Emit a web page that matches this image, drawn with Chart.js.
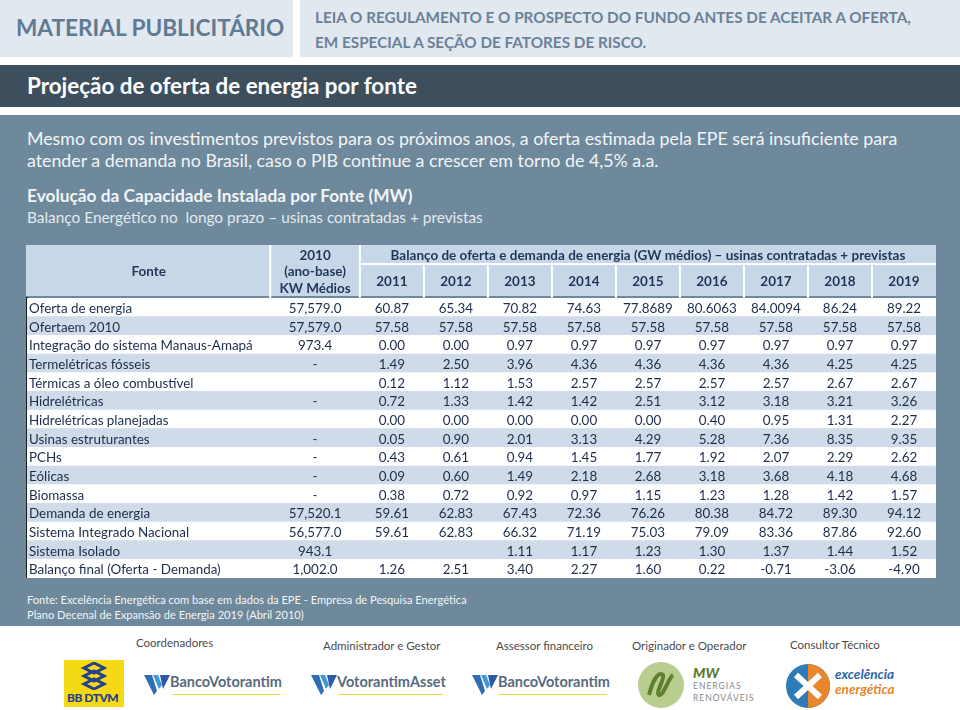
<!DOCTYPE html>
<html>
<head>
<meta charset="utf-8">
<script src="https://cdn.jsdelivr.net/npm/chart.js@4/dist/chart.umd.min.js"></script>
<style>
  html, body { margin: 0; padding: 0; }
  body { width: 960px; height: 710px; position: relative; background: #fff; font-family: Lato, "Open Sans", sans-serif; overflow: hidden; }
  .abs { position: absolute; }
  .topbox { background: #e2e8ef; top: 0; height: 57px; }
  .slate { background: #6e899c; left: 0; width: 960px; top: 115px; height: 511px; }
  .bar { background: #3d4f5d; left: 0; width: 960px; top: 65px; height: 42px; }
  .lbl { font-size: 11.5px; color: #4a4a4a; white-space: nowrap; }
  .bv { font-weight: 700; color: #586b80; white-space: nowrap; }
</style>
</head>
<body>

<!-- header boxes -->
<div class="abs topbox" style="left:0;width:293px"></div>
<div class="abs topbox" style="left:300px;width:660px"></div>
<div class="abs" style="left:16px;top:14px;font-size:22.6px;font-weight:700;color:#5f7a93;white-space:nowrap">MATERIAL PUBLICITÁRIO</div>
<div class="abs" style="left:315px;top:5px;font-size:15.3px;font-weight:700;color:#6b8198;line-height:25px;white-space:nowrap">LEIA O REGULAMENTO E O PROSPECTO DO FUNDO ANTES DE ACEITAR A OFERTA,<br>EM ESPECIAL A SEÇÃO DE FATORES DE RISCO.</div>

<div class="abs bar"></div>
<div class="abs" style="left:27px;top:72px;font-size:22.4px;font-weight:700;color:#fff;white-space:nowrap">Projeção de oferta de energia por fonte</div>

<div class="abs slate"></div>
<div class="abs" style="left:27px;top:127px;font-size:17.8px;color:#f2f5f7;line-height:22px;white-space:nowrap">Mesmo com os investimentos previstos para os próximos anos, a oferta estimada pela EPE será insuficiente para<br>atender a demanda no Brasil, caso o PIB continue a crescer em torno de 4,5% a.a.</div>
<div class="abs" style="left:27px;top:185px;font-size:17.3px;font-weight:700;color:#f2f5f7;white-space:nowrap">Evolução da Capacidade Instalada por Fonte (MW)</div>
<div class="abs" style="left:27px;top:208px;font-size:15.4px;color:#e3e9ee;white-space:nowrap">Balanço Energético no &nbsp;longo prazo – usinas contratadas + previstas</div>

<div class="abs" style="left:25px;top:245px;width:911px;height:333px">
  <canvas id="chart" width="911" height="333"></canvas>
</div>

<div class="abs" style="left:27px;top:592px;font-size:11.1px;color:#f2f5f7;line-height:15px;white-space:nowrap">Fonte: Excelência Energética com base em dados da EPE - Empresa de Pesquisa Energética<br>Plano Decenal de Expansão de Energia 2019 (Abril 2010)</div>

<!-- footer -->
<div class="abs lbl" style="left:136px;top:636px">Coordenadores</div>
<div class="abs lbl" style="left:323px;top:639px">Administrador e Gestor</div>
<div class="abs lbl" style="left:496px;top:639px">Assessor financeiro</div>
<div class="abs lbl" style="left:632px;top:639px">Originador e Operador</div>
<div class="abs lbl" style="left:790px;top:638px">Consultor Técnico</div>

<div class="abs" style="left:64px;top:660px;width:60px;height:47px;background:#f6d915"></div>
<svg class="abs" style="left:78px;top:662px" width="32" height="28" viewBox="0 0 32 28">
  <path d="M6 6 L16 1 L26 6 L16 11 Z M6 14 L16 9 L26 14 L16 19 Z M6 22 L16 17 L26 22 L16 27 Z" fill="none" stroke="#23408f" stroke-width="3"/>
</svg>
<div class="abs" style="left:67px;top:690px;font-size:12px;font-weight:900;color:#23408f;letter-spacing:-0.5px">BB DTVM</div>

<svg class="abs" style="left:144px;top:673px" width="26" height="22" viewBox="0 0 26 22"><path d="M0 2 L8 2 L13 18 L10 22 Z" fill="#2f6db5"/><path d="M9 2 L14 2 L18 12 L15 16 Z" fill="#3d9ad6"/><path d="M16 2 L26 2 L19 16 Z" fill="#2d5aa8"/></svg>
<div class="abs bv" style="left:170px;top:673px;font-size:14.5px">BancoVotorantim</div>
<div class="abs" style="left:172px;top:694px;width:108px;height:1px;background:#e8d83a"></div>

<svg class="abs" style="left:311px;top:673px" width="26" height="22" viewBox="0 0 26 22"><path d="M0 2 L8 2 L13 18 L10 22 Z" fill="#2f6db5"/><path d="M9 2 L14 2 L18 12 L15 16 Z" fill="#3d9ad6"/><path d="M16 2 L26 2 L19 16 Z" fill="#2d5aa8"/></svg>
<div class="abs bv" style="left:337px;top:673px;font-size:14.5px">VotorantimAsset</div>
<div class="abs" style="left:339px;top:694px;width:104px;height:1px;background:#e8d83a"></div>

<svg class="abs" style="left:472px;top:673px" width="26" height="22" viewBox="0 0 26 22"><path d="M0 2 L8 2 L13 18 L10 22 Z" fill="#2f6db5"/><path d="M9 2 L14 2 L18 12 L15 16 Z" fill="#3d9ad6"/><path d="M16 2 L26 2 L19 16 Z" fill="#2d5aa8"/></svg>
<div class="abs bv" style="left:498px;top:673px;font-size:14.5px">BancoVotorantim</div>
<div class="abs" style="left:499px;top:694px;width:108px;height:1px;background:#e8d83a"></div>

<svg class="abs" style="left:637px;top:661px" width="48" height="48" viewBox="0 0 48 48">
  <circle cx="24" cy="24" r="23" fill="#b9cd8f"/>
  <path d="M12 34 C16 18 22 10 26 14 C28 18 18 32 22 34 C26 36 32 16 36 14" fill="none" stroke="#5f7f2f" stroke-width="4"/>
</svg>
<div class="abs" style="left:693px;top:664px;font-size:14px;font-weight:900;font-style:italic;color:#5c7a2e">MW</div>
<div class="abs" style="left:693px;top:680px;font-size:8.5px;color:#8a8a8a;letter-spacing:1px;line-height:12px">ENERGIAS<br>RENOVÁVEIS</div>

<svg class="abs" style="left:785px;top:663px" width="46" height="46" viewBox="0 0 46 46">
  <circle cx="23" cy="23" r="22" fill="#2f7bb8"/>
  <path d="M23 1 A22 22 0 0 1 23 45 Z" fill="#e8862e"/>
  <path d="M11 12 L23 23 L11 34 M35 12 L23 23 L35 34" fill="none" stroke="#fff" stroke-width="6"/>
</svg>
<div class="abs" style="left:835px;top:667px;font-size:13.5px;font-weight:700;font-style:italic;color:#2f63a8;line-height:15px">excelência<br><span style="color:#e8862e">energética</span></div>

<script>
// linhas da tabela
const rowLabels = [
  "Oferta de energia",
  "Ofertaem 2010",
  "Integração do sistema Manaus-Amapá",
  "Termelétricas fósseis",
  "Térmicas a óleo combustível",
  "Hidrelétricas",
  "Hidrelétricas planejadas",
  "Usinas estruturantes",
  "PCHs",
  "Eólicas",
  "Biomassa",
  "Demanda de energia",
  "Sistema Integrado Nacional",
  "Sistema Isolado",
  "Balanço final (Oferta - Demanda)"
];

const years = ["2011", "2012", "2013", "2014", "2015", "2016", "2017", "2018", "2019"];

// 2010 (ano-base) KW médios  ("-" = traço, null = vazio)
const base2010 = [57579.0, 57579.0, 973.4, "-", null, "-", null, "-", "-", "-", "-", 57520.1, 56577.0, 943.1, 1002.0];

// GW médios 2011..2019
const ofertaEnergia       = [60.87, 65.34, 70.82, 74.63, 77.8689, 80.6063, 84.0094, 86.24, 89.22];
const oferta2010          = [57.58, 57.58, 57.58, 57.58, 57.58, 57.58, 57.58, 57.58, 57.58];
const manausAmapa         = [0.00, 0.00, 0.97, 0.97, 0.97, 0.97, 0.97, 0.97, 0.97];
const termeletricas       = [1.49, 2.50, 3.96, 4.36, 4.36, 4.36, 4.36, 4.25, 4.25];
const termicasOleo        = [0.12, 1.12, 1.53, 2.57, 2.57, 2.57, 2.57, 2.67, 2.67];
const hidreletricas       = [0.72, 1.33, 1.42, 1.42, 2.51, 3.12, 3.18, 3.21, 3.26];
const hidrePlanejadas     = [0.00, 0.00, 0.00, 0.00, 0.00, 0.40, 0.95, 1.31, 2.27];
const usinasEstruturantes = [0.05, 0.90, 2.01, 3.13, 4.29, 5.28, 7.36, 8.35, 9.35];
const pchs                = [0.43, 0.61, 0.94, 1.45, 1.77, 1.92, 2.07, 2.29, 2.62];
const eolicas             = [0.09, 0.60, 1.49, 2.18, 2.68, 3.18, 3.68, 4.18, 4.68];
const biomassa            = [0.38, 0.72, 0.92, 0.97, 1.15, 1.23, 1.28, 1.42, 1.57];
const demandaEnergia      = [59.61, 62.83, 67.43, 72.36, 76.26, 80.38, 84.72, 89.30, 94.12];
const sistemaIntegrado    = [59.61, 62.83, 66.32, 71.19, 75.03, 79.09, 83.36, 87.86, 92.60];
const sistemaIsolado      = [null, null, 1.11, 1.17, 1.23, 1.30, 1.37, 1.44, 1.52];
const balancoFinal        = [1.26, 2.51, 3.40, 2.27, 1.60, 0.22, -0.71, -3.06, -4.90];

const yearValues = [ofertaEnergia, oferta2010, manausAmapa, termeletricas, termicasOleo,
  hidreletricas, hidrePlanejadas, usinasEstruturantes, pchs, eolicas, biomassa,
  demandaEnergia, sistemaIntegrado, sistemaIsolado, balancoFinal];

// bordas das colunas (Fonte | 2010 | 2011..2019)
const colEdges = [0, 3.8, 5.2, 6.2, 7.2, 8.2, 9.2, 10.2, 11.2, 12.2, 13.2, 14.2];

const HEADER_H = 53;
const NAVY = "#1c2d4c";
const HEAD_NAVY = "#1f3658";
const STRIPE = "#cfdbe8";
const HEAD_BG = "#c8d7e8";

function fmtBase(v) {
  if (v === null) return "";
  if (v === "-") return "-";
  return v.toLocaleString("en-US", { minimumFractionDigits: 1, maximumFractionDigits: 1 });
}
function fmtYear(v) {
  if (v === null) return "";
  return Math.round(v * 100) / 100 === v ? v.toFixed(2) : String(v);
}

// 🧾 texto das células + cabeçalho
const tablePlugin = {
  id: "tableText",
  afterDraw(chart) {
    const { ctx, chartArea } = chart;
    const x = chart.scales.x;
    const y = chart.scales.y;
    const cx = i => (x.getPixelForValue(colEdges[i]) + x.getPixelForValue(colEdges[i + 1])) / 2;
    const top = chartArea.top - HEADER_H;
    const left = x.getPixelForValue(colEdges[0]);
    const right = x.getPixelForValue(colEdges[colEdges.length - 1]);
    const split = top + 19;

    ctx.save();
    // cabeçalho
    ctx.fillStyle = HEAD_BG;
    ctx.fillRect(left - 1, top, right - left + 1, HEADER_H - 2);
    ctx.strokeStyle = "#ffffff";
    ctx.lineWidth = 2;
    ctx.beginPath();
    [1, 2].forEach(i => {
      const px = x.getPixelForValue(colEdges[i]);
      ctx.moveTo(px, top); ctx.lineTo(px, chartArea.top);
    });
    ctx.moveTo(x.getPixelForValue(colEdges[2]), split);
    ctx.lineTo(right, split);
    for (let i = 3; i < colEdges.length - 1; i++) {
      const px = x.getPixelForValue(colEdges[i]);
      ctx.moveTo(px, split); ctx.lineTo(px, chartArea.top);
    }
    ctx.stroke();

    ctx.fillStyle = HEAD_NAVY;
    ctx.font = "bold 13.5px Lato, sans-serif";
    ctx.textAlign = "center";
    ctx.textBaseline = "middle";
    ctx.fillText("Fonte", cx(0), top + 27);
    ctx.fillText("2010", cx(1), top + 11);
    ctx.fillText("(ano-base)", cx(1), top + 27);
    ctx.fillText("KW Médios", cx(1), top + 44);
    ctx.fillText("Balanço de oferta e demanda de energia (GW médios) – usinas contratadas + previstas",
      (x.getPixelForValue(colEdges[2]) + right) / 2, top + 11);
    years.forEach((yr, j) => ctx.fillText(yr, cx(j + 2), top + 37));

    // corpo
    ctx.font = "13.4px Lato, sans-serif";
    ctx.fillStyle = NAVY;
    rowLabels.forEach((lbl, i) => {
      const py = y.getPixelForValue(i) + 1.5;
      ctx.textAlign = "left";
      ctx.fillText(lbl, left + 2, py);
      ctx.textAlign = "center";
      ctx.fillText(fmtBase(base2010[i]), cx(1), py);
      yearValues[i].forEach((v, j) => ctx.fillText(fmtYear(v), cx(j + 2), py));
    });
    ctx.restore();
  }
};

const ctx = document.getElementById("chart").getContext("2d");
new Chart(ctx, {
  type: "bar",
  data: {
    labels: rowLabels,
    datasets: [{
      data: rowLabels.map(() => [colEdges[0], colEdges[colEdges.length - 1]]),
      backgroundColor: rowLabels.map((_, i) => i % 2 ? STRIPE : "#ffffff"),
      borderWidth: 0,
      barPercentage: 1,
      categoryPercentage: 1
    }]
  },
  options: {
    indexAxis: "y",
    responsive: false,
    animation: false,
    layout: { padding: { top: HEADER_H, left: 2, right: 0, bottom: 0 } },
    plugins: { legend: { display: false }, tooltip: { enabled: false } },
    scales: {
      x: {
        type: "linear",
        min: colEdges[0],
        max: colEdges[colEdges.length - 1],
        z: 1,
        ticks: { display: false },
        grid: { color: "#ffffff", lineWidth: 1.5, drawTicks: false },
        border: { display: false },
        afterBuildTicks: s => { s.ticks = colEdges.slice(1, -1).map(v => ({ value: v })); }
      },
      y: {
        ticks: { display: false },
        grid: { display: false, drawTicks: false },
        border: { display: true, color: "#1e1e1e", width: 2 }
      }
    }
  },
  plugins: [tablePlugin]
});
</script>
</body>
</html>
